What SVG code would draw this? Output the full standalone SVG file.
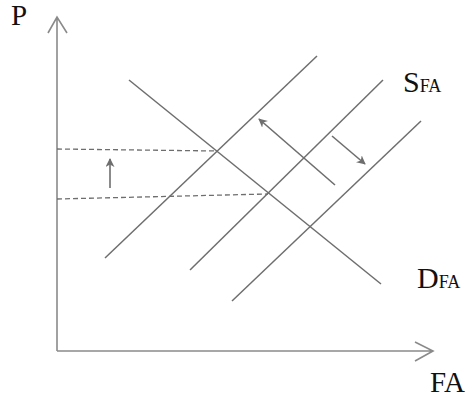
<svg xmlns="http://www.w3.org/2000/svg" width="476" height="398" viewBox="0 0 476 398">
<defs>
<style>
.axis{stroke:#8a8a8a;stroke-width:1.6;fill:none}
.curve{stroke:#6e6e6e;stroke-width:1.5;fill:none}
.dash{stroke:#6e6e6e;stroke-width:1.3;stroke-dasharray:5,3;fill:none}
.arr{stroke:#6e6e6e;stroke-width:1.6;fill:none}
.lbl{font-family:"Liberation Serif","Times New Roman",serif;fill:#111}
</style>
<marker id="ah" viewBox="0 0 10 10" refX="9" refY="5" markerWidth="9" markerHeight="9" markerUnits="userSpaceOnUse" orient="auto">
<path d="M0,0 L10,5 L0,10 L3,5 Z" fill="#6e6e6e"/>
</marker>
</defs>
<g id="axes">
<path class="axis" d="M57,351 V17 M48,33 L57,17 L67,33"/>
<path class="axis" d="M57,351 H433 M415,342 L433,351 L415,361"/>
</g>
<g id="connectors">
<path id="D" class="curve" d="M129,80 L381,284"/>
<path id="S1" class="curve" d="M105,258 L317,56"/>
<path id="S2" class="curve" d="M190,270 L383,80"/>
<path id="S3" class="curve" d="M232,301 L421,121"/>
<path class="dash" d="M57,149 L216,151"/>
<path class="dash" d="M57,199 L268,194"/>
<path class="arr" d="M110,188 L110,159" marker-end="url(#ah)"/>
<path class="arr" d="M335,185 L259,119" marker-end="url(#ah)"/>
<path class="arr" d="M332,136 L365,164" marker-end="url(#ah)"/>
</g>
<g id="labels">
<text class="lbl" x="11" y="25" font-size="29">P</text>
<text class="lbl" x="403" y="92" font-size="30">S<tspan font-size="18">FA</tspan></text>
<text class="lbl" x="417" y="288" font-size="30">D<tspan font-size="18">FA</tspan></text>
<text class="lbl" x="430" y="392" font-size="29">FA</text>
</g>
</svg>
